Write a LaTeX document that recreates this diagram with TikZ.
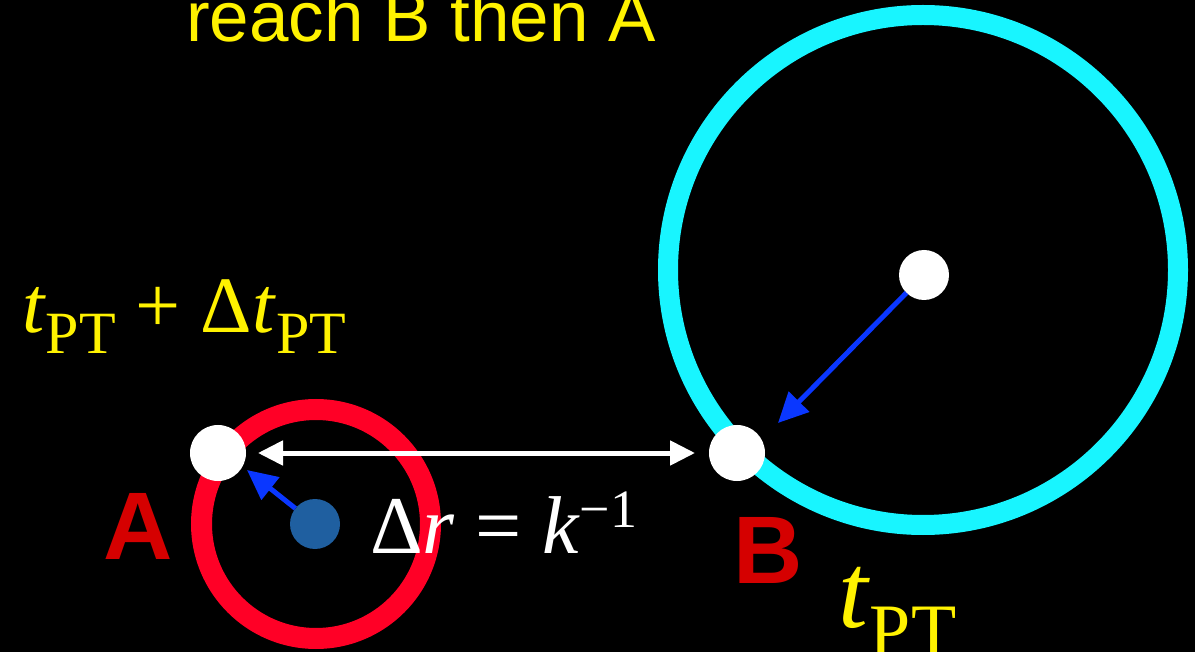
\documentclass[tikz,border=0pt]{standalone}
\usepackage{fontspec}
\setmainfont{Liberation Serif}
\newfontfamily\hsans{Liberation Sans}
\usetikzlibrary{arrows.meta}
\definecolor{ylw}{RGB}{255,242,0}
\definecolor{ringcyan}{RGB}{24,245,255}
\definecolor{ringred}{RGB}{255,0,38}
\definecolor{lblred}{RGB}{213,0,0}
\definecolor{dotblue}{RGB}{31,95,160}
\definecolor{arrblue}{RGB}{10,55,255}
\newcommand{\fs}[1]{\fontsize{#1}{#1}\selectfont}
\tikzset{
  ring/.style={circle, inner sep=0pt, outer sep=0pt},
  dot/.style={circle, inner sep=0pt, outer sep=0pt},
  lbl/.style={inner sep=0pt, outer sep=0pt, anchor=base west},
  blueArrow/.style={draw=arrblue, line width=5pt, -{Triangle[length=30pt,width=28pt]}},
  whiteArrow/.style={draw=white, line width=5pt, {Triangle[length=25pt,width=24pt]}-{Triangle[length=25pt,width=24pt]}}
}
\begin{document}
\begin{tikzpicture}[x=1pt,y=-1pt]
\useasboundingbox (0,0) rectangle (1195,652);
\fill[black] (0,0) rectangle (1195,652);
% rings
\node[ring, draw=ringcyan, line width=20pt, minimum size=510pt] (Bring) at (923,270) {};
\node[ring, draw=ringred, line width=21pt, minimum size=229pt] (Aring) at (316,524) {};
% dots
\node[dot, fill=white, minimum size=56pt] (A) at (218,453) {};
\node[dot, fill=white, minimum size=56pt] (B) at (737,453) {};
\node[dot, fill=white, minimum size=50pt] (Bc) at (924,275) {};
\node[dot, fill=dotblue, minimum size=50pt] (Ac) at (315,524) {};
% arrows
\coordinate (tipA) at (247,470);
\coordinate (tipB) at (778,423);
\draw[blueArrow] (Ac) -- (tipA);
\draw[blueArrow] (Bc) -- (tipB);
\draw[whiteArrow] ([xshift=12pt]A.east) -- ([xshift=-14pt]B.west);
% texts
\node[lbl, text=ylw] (title) at (186,42) {\hsans\fs{71}reach B then A};
\node[lbl, text=lblred] (labA) at (103,559) {\hsans\bfseries\fs{96}A};
\node[lbl, text=lblred] (labB) at (733,583) {\hsans\bfseries\fs{96}B};
\node[lbl, text=ylw] (tA) at (22,333) {\fs{80}\textit{t}\raisebox{-21pt}{\fs{60}PT} + Δ\textit{t}\raisebox{-21pt}{\fs{60}PT}};
\node[lbl, text=white] (dr) at (370,553) {\fs{82}Δ\textit{r} = \textit{k}\raisebox{26pt}{\fs{54}−1}};
\node[lbl, text=ylw] (tB) at (838,627) {\fs{107}\textit{t}\raisebox{-28pt}{\fs{74}PT}};
\end{tikzpicture}
\end{document}
